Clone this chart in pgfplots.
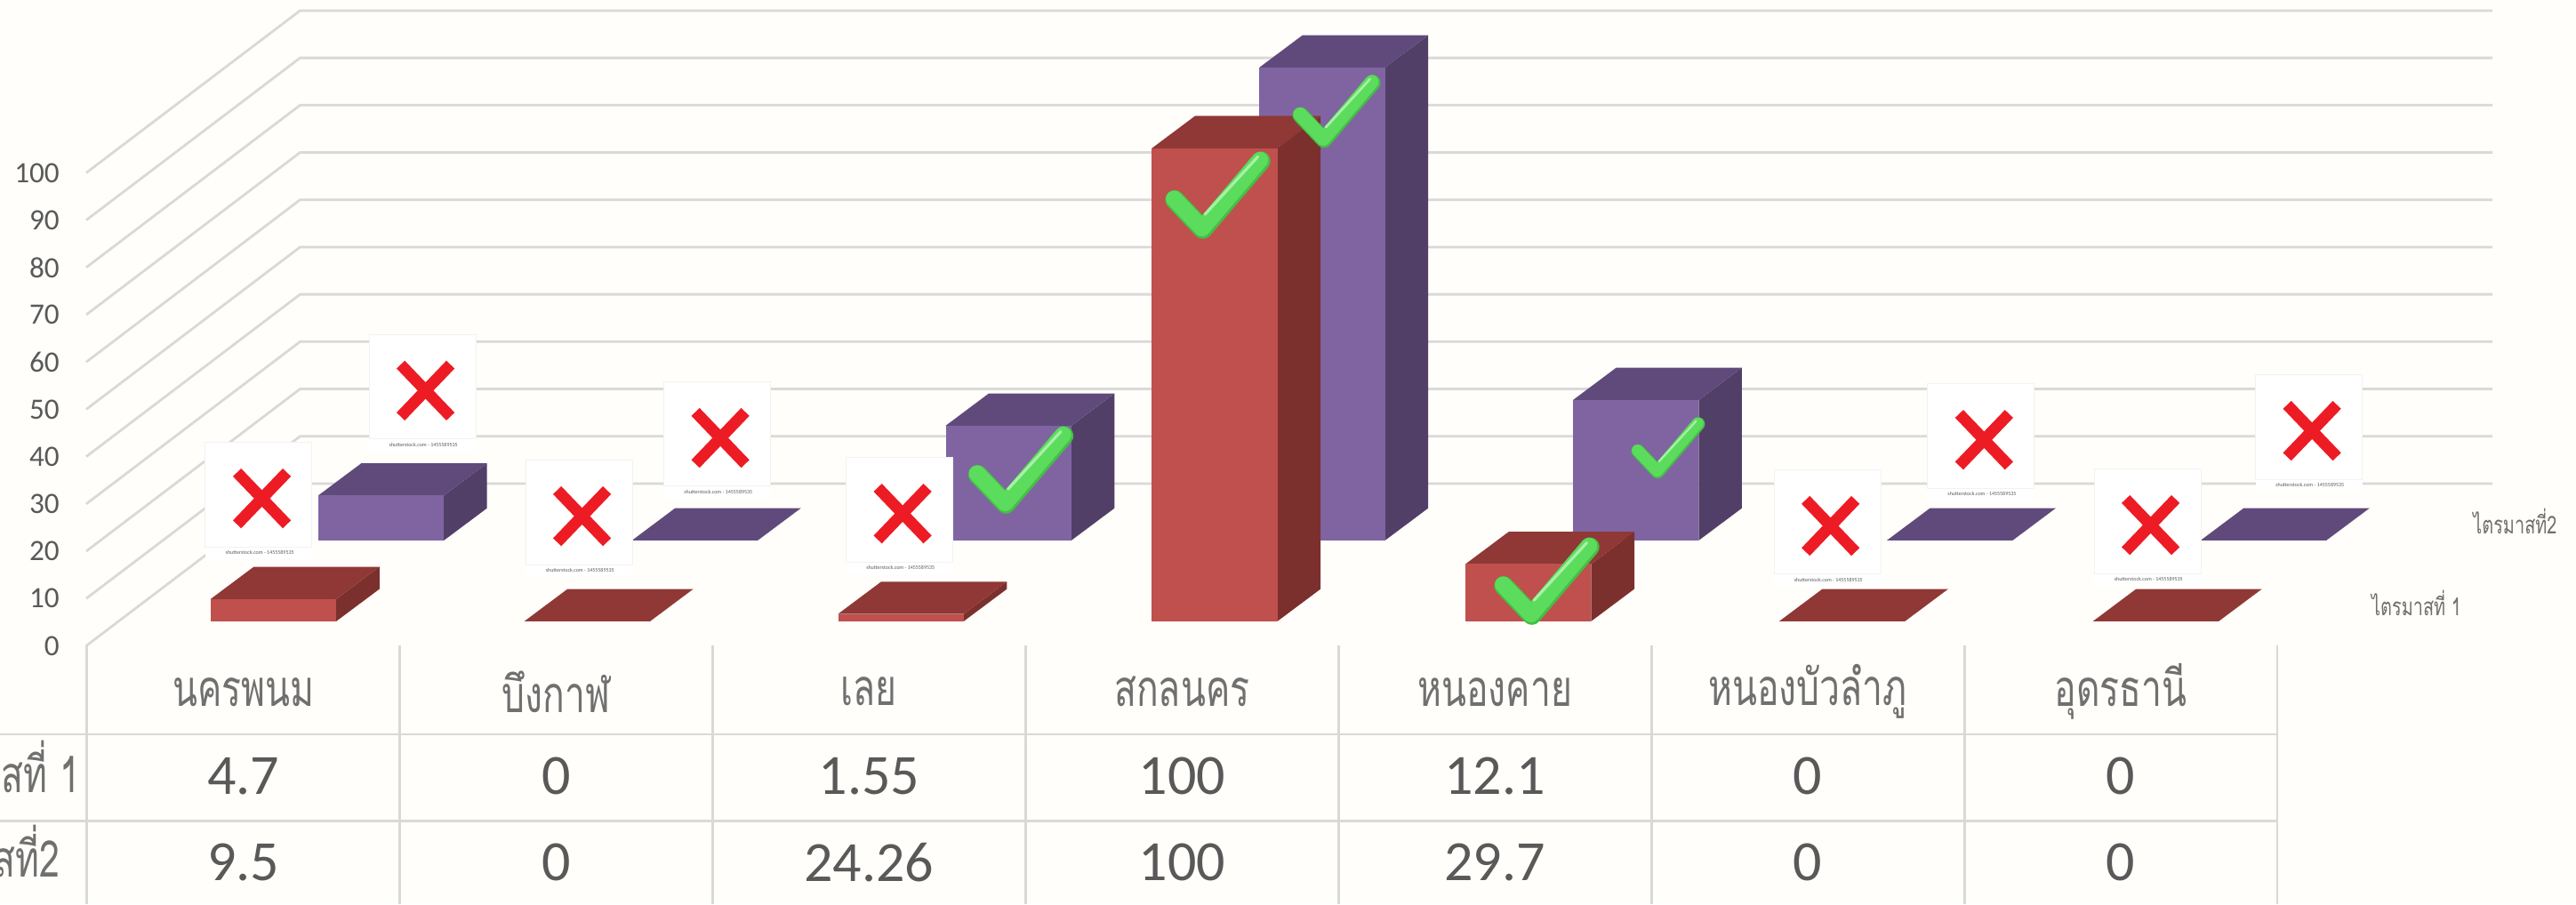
\documentclass[border=0pt]{standalone}
\usepackage{pgfplots}
\usepackage{pgfplotstable}
\pgfplotsset{compat=1.18}
\usepackage{fontspec}
\setmainfont{Carlito}
\newfontfamily\thaifont[Script=Thai,FakeStretch=0.72]{Loma}
\definecolor{bgc}{HTML}{FFFEFA}
\definecolor{gridc}{HTML}{D9D9D9}
\definecolor{txtc}{HTML}{595959}
\definecolor{thaic}{HTML}{707070}
\definecolor{cardc}{HTML}{F2F2F2}
\definecolor{redF}{HTML}{C0504D}
\definecolor{redT}{HTML}{8F3836}
\definecolor{redS}{HTML}{7B302E}
\definecolor{purF}{HTML}{8064A2}
\definecolor{purT}{HTML}{604A7B}
\definecolor{purS}{HTML}{523F68}
\definecolor{crossc}{HTML}{ED1C24}
\definecolor{chkA}{HTML}{45BE45}
\definecolor{chkB}{HTML}{5CDC5C}
\definecolor{chkC}{HTML}{A8F0A8}
% 3D box mark: the origin is the middle of the front face's top edge, 1 px = 0.25 pt
\newcommand\declbox[4]{%
\pgfdeclareplotmark{#1}{%
  \pgfmathsetlengthmacro\hh{1.33pt*\val}%
  \pgfsetstrokeopacity{0}%
  \pgfsetfillcolor{#4}%
  \pgfpathmoveto{\pgfqpoint{17.66pt}{0pt}}%
  \pgfpathlineto{\pgfqpoint{29.8pt}{9.07pt}}%
  \pgfpathlineto{\pgfqpoint{29.8pt}{\dimexpr9.07pt-\hh\relax}}%
  \pgfpathlineto{\pgfqpoint{17.66pt}{-\hh}}%
  \pgfpathclose\pgfusepath{fill}%
  \pgfsetfillcolor{#3}%
  \pgfpathmoveto{\pgfqpoint{-17.66pt}{0pt}}%
  \pgfpathlineto{\pgfqpoint{-5.53pt}{9.07pt}}%
  \pgfpathlineto{\pgfqpoint{29.8pt}{9.07pt}}%
  \pgfpathlineto{\pgfqpoint{17.66pt}{0pt}}%
  \pgfpathclose\pgfusepath{fill}%
  \pgfsetfillcolor{#2}%
  \pgfpathmoveto{\pgfqpoint{-17.66pt}{0pt}}%
  \pgfpathlineto{\pgfqpoint{17.66pt}{0pt}}%
  \pgfpathlineto{\pgfqpoint{17.66pt}{-\hh}}%
  \pgfpathlineto{\pgfqpoint{-17.66pt}{-\hh}}%
  \pgfpathclose\pgfusepath{fill}%
}}
\declbox{boxred}{redF}{redT}{redS}
\declbox{boxpur}{purF}{purT}{purS}
% white card with a red cross and its tiny caption
\pgfdeclareplotmark{xcard}{%
  \pgfsetstrokeopacity{1}%
  \pgfsetfillcolor{white}%
  \pgfpathrectangle{\pgfqpoint{-15pt}{-16.4pt}}{\pgfqpoint{30pt}{32.8pt}}%
  \pgfusepath{fill}%
  \pgfsetstrokecolor{cardc}%
  \pgfsetlinewidth{0.25pt}%
  \pgfpathrectangle{\pgfqpoint{-15pt}{-13pt}}{\pgfqpoint{30pt}{29.4pt}}%
  \pgfusepath{stroke}%
  \pgfsetstrokecolor{crossc}%
  \pgfsetlinewidth{3.2pt}%
  \pgfsetbuttcap
  \pgfpathmoveto{\pgfqpoint{-6.1pt}{7.9pt}}\pgfpathlineto{\pgfqpoint{7.9pt}{-6.7pt}}%
  \pgfpathmoveto{\pgfqpoint{7.9pt}{7.9pt}}\pgfpathlineto{\pgfqpoint{-6.1pt}{-6.7pt}}%
  \pgfusepath{stroke}%
  \pgftext[at=\pgfqpoint{0.3pt}{-14.6pt}]{\color{txtc}\fontsize{1.5}{1.8}\selectfont shutterstock.com - 1455589535}%
}
% green tick, scaled by \ms
\pgfdeclareplotmark{gcheck}{%
  \pgfsetroundcap\pgfsetroundjoin
  \pgftransformscale{\ms}%
  \pgfmathsetlengthmacro\lwA{5.4pt*\ms}%
  \pgfmathsetlengthmacro\lwB{4.6pt*\ms}%
  \pgfmathsetlengthmacro\lwC{0.8pt*\ms}%
  \pgfsetstrokeopacity{1}%
  \pgfsetstrokecolor{chkA}\pgfsetlinewidth{\lwA}%
  \pgfpathmoveto{\pgfqpoint{-12.1pt}{-1.2pt}}\pgfpathlineto{\pgfqpoint{-4.2pt}{-9.5pt}}\pgfpathlineto{\pgfqpoint{12.1pt}{9.7pt}}\pgfusepath{stroke}%
  \pgfsetstrokecolor{chkB}\pgfsetlinewidth{\lwB}%
  \pgfpathmoveto{\pgfqpoint{-12.3pt}{-0.9pt}}\pgfpathlineto{\pgfqpoint{-4.4pt}{-9.2pt}}\pgfpathlineto{\pgfqpoint{11.9pt}{10pt}}\pgfusepath{stroke}%
  \pgfsetstrokecolor{chkC}\pgfsetlinewidth{\lwC}%
  \pgfpathmoveto{\pgfqpoint{-3.6pt}{-5.3pt}}\pgfpathlineto{\pgfqpoint{11.25pt}{10.9pt}}\pgfusepath{stroke}%
}
\pgfplotstableread{
i v
0 4.7
1 0
2 1.55
3 100
4 12.1
5 0
6 0
}\tableA
\pgfplotstableread{
i v
0 9.5
1 0
2 24.26
3 100
4 29.7
5 0
6 0
}\tableB
\pgfplotstableread{
x y
0.0494 30.71
0.5723 53.51
1.0725 26.95
1.5144 43.5
2.0969 27.5
5.0623 24.9
5.5530 43.1
6.0853 25.07
6.6010 45.0
}\tableX
\pgfplotstableread{
x y s
3.1143 95.2 1
3.4936 112.95 0.835
4.1656 13.6 1
4.5535 41.8 0.70
2.4848 37.1 1
}\tableC
\pgfplotstableread{
x y lbl
0 -27.56 4.7
1 -27.56 0
2 -27.56 1.55
3 -27.56 100
4 -27.56 12.1
5 -27.56 0
6 -27.56 0
0 -45.86 9.5
1 -45.86 0
2 -45.86 24.26
3 -45.86 100
4 -45.86 29.7
5 -45.86 0
6 -45.86 0
}\tableV
\begin{document}
\begin{tikzpicture}
\path[use as bounding box,clip] (0,0) rectangle (724.25pt,254.25pt);
\fill[bgc] (0,0) rectangle (724.25pt,254.25pt);
\begin{axis}[
  at={(0,0)},anchor=south west,
  width=724.25pt,height=254.25pt,scale only axis,
  xmin=-0.7775,xmax=7.4549,ymin=-54.62,ymax=136.54,
  clip=false,
  axis line style={draw=none},
  tick style={draw=none},
  ytick={0,10,...,100},
  /pgf/number format/assume math mode=true,
  yticklabel style={font=\fontsize{8.3}{9}\selectfont,text=txtc,anchor=east,inner sep=0pt,xshift=16.9pt},
  xtick={0,1,2,3,4,5,6},
  xticklabels={นครพนม,บึงกาฬ,เลย,สกลนคร,หนองคาย,หนองบัวลำภู,อุดรธานี},
  xticklabel style={font=\thaifont\fontsize{14.2}{16}\selectfont,text=thaic,anchor=center,inner sep=0pt,yshift=59.7pt},
  every node near coord/.style={font=\fontsize{16}{18}\selectfont,text=txtc,anchor=center,inner sep=0pt},
]
% back wall and slanted side wall
\pgfplotsinvokeforeach{0,10,...,100}{
  \draw[gridc,line width=0.7pt] (axis cs:-0.5018,#1) -- (axis cs:0.1816,{#1+34.3}) -- (axis cs:7.188,{#1+34.3});
}
% data table lines
\draw[gridc,line width=0.7pt] (axis cs:-0.7775,-18.72) -- (axis cs:6.5,-18.72);
\draw[gridc,line width=0.7pt] (axis cs:-0.7775,-37.1) -- (axis cs:6.5,-37.1);
\pgfplotsinvokeforeach{0,...,7}{
  \draw[gridc,line width=0.7pt] (axis cs:{#1-0.5},0) -- (axis cs:{#1-0.5},-54.62);
}
% the two series
\addplot[only marks,mark=boxpur,visualization depends on={\thisrow{v}\as\val}]
  table[x expr=\thisrow{i}*1.00256+0.4402,y expr=\thisrow{v}+22.27] {\tableB};
\addplot[only marks,mark=boxred,visualization depends on={\thisrow{v}\as\val}]
  table[x expr=\thisrow{i}*1.00256+0.0966,y expr=\thisrow{v}+5.19] {\tableA};
% status pictures
\addplot[only marks,mark=xcard] table[x=x,y=y] {\tableX};
\addplot[only marks,mark=gcheck,visualization depends on={\thisrow{s}\as\ms}] table[x=x,y=y] {\tableC};
% data table values
\addplot[draw=none,mark=none,nodes near coords,point meta=explicit symbolic]
  table[x=x,y=y,meta=lbl] {\tableV};
% row names, clipped by the picture's edge as in the source
\node[anchor=east,inner sep=0pt,font=\thaifont\fontsize{14.2}{16}\selectfont,text=thaic] at (axis cs:-0.52,-25.6) {ไตรมาสที่ 1};
\node[anchor=east,inner sep=0pt,font=\thaifont\fontsize{14.2}{16}\selectfont,text=thaic] at (axis cs:-0.585,-43.5) {ไตรมาสที่2};
% series names on the depth axis
\node[anchor=center,inner sep=0pt,font=\thaifont\fontsize{6.9}{8}\selectfont,text=thaic] at (axis cs:6.945,9.0) {ไตรมาสที่ 1};
\node[anchor=center,inner sep=0pt,font=\thaifont\fontsize{6.9}{8}\selectfont,text=thaic] at (axis cs:7.26,26.3) {ไตรมาสที่2};
\end{axis}
\end{tikzpicture}
\end{document}
